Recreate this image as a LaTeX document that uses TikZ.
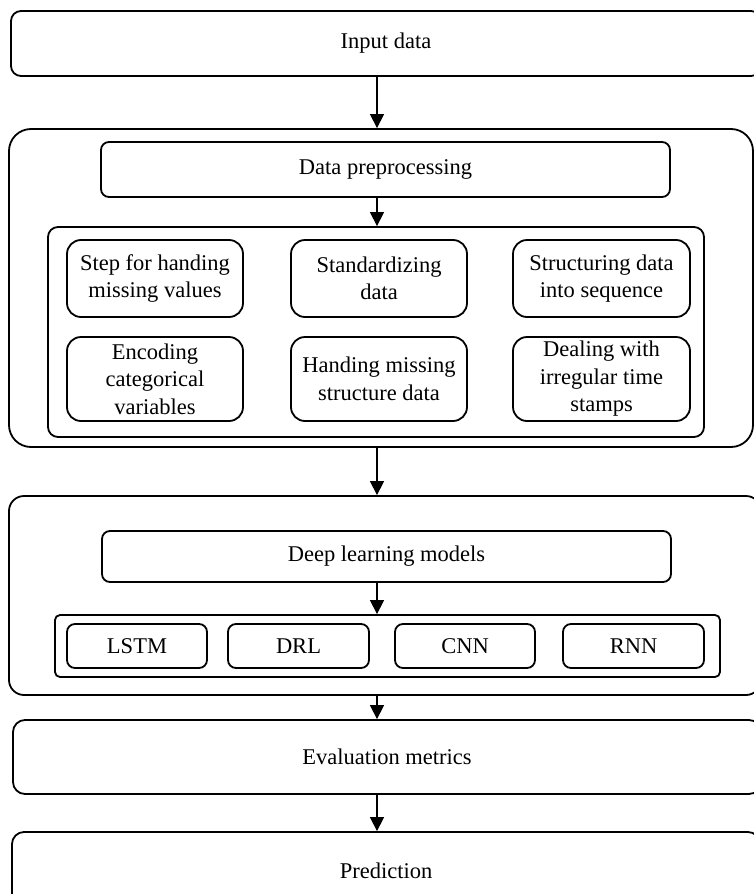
\documentclass[tikz,border=0pt]{standalone}
\usepackage{fontspec}
\setmainfont{Liberation Serif}
\usetikzlibrary{arrows.meta}
\begin{document}
\begin{tikzpicture}[x=1pt,y=-1pt,
  box/.style={draw=black, line width=1.8pt, fill=white, inner sep=0pt, align=center,
    font=\fontsize{22.5}{27.5}\selectfont, text=black},
  arr/.style={draw=black, line width=1.3pt, -{Triangle[length=14pt,width=14pt]}}]
\useasboundingbox (0,0) rectangle (754,894);
\clip (0,0) rectangle (754,894);
\coordinate (ax) at (377,0);
% Input
\node[box, rounded corners=10pt, minimum width=750pt, minimum height=65pt] (in) at (386,43.5) {Input data};
% Group 1
\node[box, rounded corners=22pt, minimum width=744pt, minimum height=318pt] (g1) at (381,288) {};
\node[box, rounded corners=8pt, minimum width=569pt, minimum height=55pt] (dp) at (385.5,169.5) {Data preprocessing};
\node[box, rounded corners=10pt, minimum width=656pt, minimum height=210pt] (inner) at (376,332) {};
\node[box, rounded corners=14pt, minimum width=176pt, minimum height=77pt] (s1) at (155,278.5) {Step for handing\\missing values};
\node[box, rounded corners=14pt, minimum width=176pt, minimum height=77pt] (s2) at (379,278.5) {Standardizing\\data};
\node[box, rounded corners=14pt, minimum width=177pt, minimum height=77pt] (s3) at (601.5,278.5) {Structuring data\\into sequence};
\node[box, rounded corners=14pt, minimum width=176pt, minimum height=84pt] (s4) at (155,379) {Encoding\\categorical\\variables};
\node[box, rounded corners=14pt, minimum width=176pt, minimum height=84pt] (s5) at (379,379) {Handing missing\\structure data};
\node[box, rounded corners=14pt, minimum width=177pt, minimum height=84pt] (s6) at (601.5,379) {Dealing with\\irregular time\\stamps};
% Group 2
\node[box, rounded corners=15pt, minimum width=752pt, minimum height=199pt] (g2) at (385,595.5) {};
\node[box, rounded corners=8pt, minimum width=569pt, minimum height=51pt] (dl) at (386.5,556.5) {Deep learning models};
\node[box, rounded corners=5pt, minimum width=665pt, minimum height=62pt] (mods) at (387.5,646) {};
\node[box, rounded corners=8pt, minimum width=140pt, minimum height=44pt] (m1) at (137,646) {LSTM};
\node[box, rounded corners=8pt, minimum width=141pt, minimum height=44pt] (m2) at (298.5,646) {DRL};
\node[box, rounded corners=8pt, minimum width=140pt, minimum height=44pt] (m3) at (465,646) {CNN};
\node[box, rounded corners=8pt, minimum width=141pt, minimum height=44pt] (m4) at (633.5,646) {RNN};
% Evaluation, Prediction
\node[box, rounded corners=12pt, minimum width=748pt, minimum height=74pt] (ev) at (387,757) {Evaluation metrics};
\node[box, rounded corners=12pt, minimum width=748pt, minimum height=78pt] (pr) at (386,871) {Prediction};
% Arrows
\draw[arr] (in.south -| ax) -- (g1.north -| ax);
\draw[arr] (dp.south -| ax) -- (inner.north -| ax);
\draw[arr] (g1.south -| ax) -- (g2.north -| ax);
\draw[arr] (dl.south -| ax) -- (mods.north -| ax);
\draw[arr] (g2.south -| ax) -- (ev.north -| ax);
\draw[arr] (ev.south -| ax) -- (pr.north -| ax);
\end{tikzpicture}
\end{document}
